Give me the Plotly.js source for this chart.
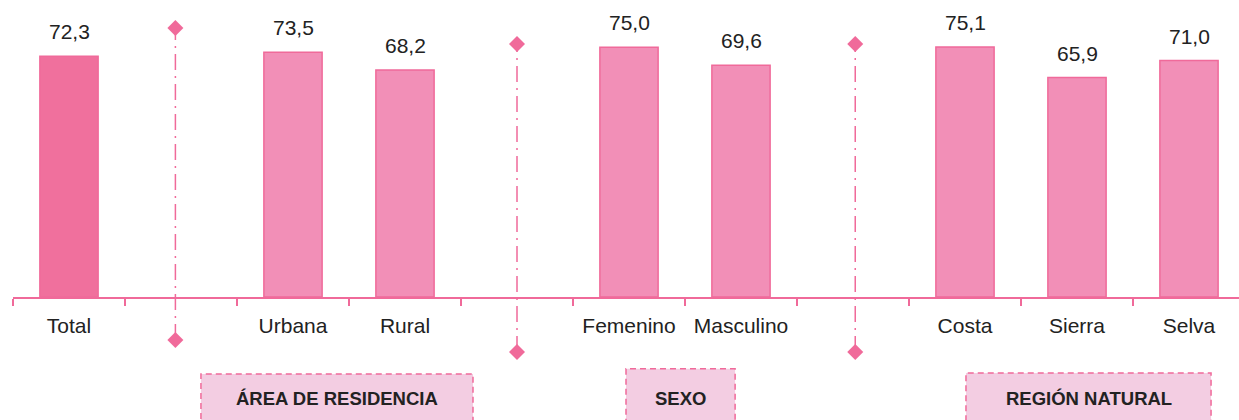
<!DOCTYPE html>
<html><head><meta charset="utf-8">
<script src="https://cdn.plot.ly/plotly-3.0.1.min.js"></script>
<style>html,body{margin:0;padding:0;background:#fff}#chart{width:1239px;height:420px}</style>
</head><body><div id="chart"></div>
<script>
// Data
const categories = ["Total", "", "Urbana", "Rural", "", "Femenino", "Masculino", "", "Costa", "Sierra", "Selva"];
const values =     [72.3,   null, 73.5,   68.2,   null, 75.0,      69.6,        null, 75.1,   65.9,     71.0];
const valueLabels = ["72,3", "", "73,5", "68,2", "", "75,0", "69,6", "", "75,1", "65,9", "71,0"];
const groupLabels = ["ÁREA DE RESIDENCIA", "SEXO", "REGIÓN NATURAL"];

const FONT = "'Liberation Sans', Arial, sans-serif";
const idx = categories.map((_, i) => i);
const barIdx = idx.filter(i => values[i] !== null);
const dividerIdx = idx.filter(i => values[i] === null);

const pinkLine = 'rgb(240,106,154)';
const barColors = barIdx.map(i => i === 0 ? 'rgb(240,112,157)' : 'rgb(242,143,183)');

const plotW = 1239 - 13, plotH = 297;
const slotPx = 112;
const xr = [-0.5, plotW / slotPx - 0.5];
const yr = [0, 89.2];
const px = d => (d - xr[0]) / (xr[1] - xr[0]);
const py = v => (v - yr[0]) / (yr[1] - yr[0]);

const traces = [{
  type: 'bar',
  x: barIdx,
  y: barIdx.map(i => values[i]),
  width: 0.52,
  marker: {color: barColors, line: {color: pinkLine, width: 1.5}},
  hoverinfo: 'skip',
  xaxis: 'x', yaxis: 'y'
}, {type: 'scatter', x: [0], y: [0], mode: 'markers', marker: {opacity: 0}, xaxis: 'x2', yaxis: 'y', hoverinfo: 'skip', showlegend: false}];

const shapes = [];
const annotations = barIdx.map(i => ({
  x: i, y: values[i], xref: 'x', yref: 'y',
  text: valueLabels[i], showarrow: false,
  xanchor: 'center', yanchor: 'bottom', yshift: 11,
  font: {family: FONT, size: 21, color: '#222'}
}));

// Divider decorations (top / bottom in data units)
const dividerEnds = [[80.8, -12.9], [76.0, -16.5], [76.0, -16.5]];
const dividerShift = [-0.05, 0, 0.02];
const hx = 8 / plotW, hy = 8 / plotH;
dividerIdx.forEach((d, k) => {
  const x = px(d + dividerShift[k]);
  const yt = py(dividerEnds[k][0]), yb = py(dividerEnds[k][1]);
  shapes.push({type: 'line', xref: 'paper', yref: 'paper', x0: x, x1: x, y0: yb, y1: yt,
    line: {color: pinkLine, width: 1.5, dash: '16px,6px,2px,6px'}});
  [yt, yb].forEach(y => {
    shapes.push({type: 'path', xref: 'paper', yref: 'paper',
      path: `M ${x - hx} ${y} L ${x} ${y + hy} L ${x + hx} ${y} L ${x} ${y - hy} Z`,
      fillcolor: pinkLine, line: {width: 0}});
  });
});

const boxes = [[0.1533, 0.3752], [0.5, 0.589], [0.7773, 0.9772]];
const boxY = [[-0.259, -0.45], [-0.242, -0.45], [-0.256, -0.45]];
boxes.forEach((b, k) => {
  shapes.push({type: 'rect', xref: 'paper', yref: 'paper', x0: b[0], x1: b[1], y0: boxY[k][1], y1: boxY[k][0],
    fillcolor: 'rgb(243,205,226)', line: {color: pinkLine, width: 1.5, dash: '6px,4px'}, layer: 'below'});
  annotations.push({xref: 'paper', yref: 'paper', x: (b[0] + b[1]) / 2, y: -0.342,
    xanchor: 'center', yanchor: 'middle',
    text: '<b>' + groupLabels[k] + '</b>', showarrow: false,
    font: {family: FONT, size: 18.5, color: '#222'}});
});

const layout = {
  width: 1239, height: 420,
  margin: {l: 13, r: 0, t: 0, b: 123},
  paper_bgcolor: '#fff', plot_bgcolor: '#fff',
  showlegend: false,
  xaxis: {
    range: xr, showgrid: false, zeroline: false,
    showline: true, linecolor: pinkLine, linewidth: 1.5,
    tickvals: idx.concat([idx.length]).map(i => i - 0.5),
    ticktext: idx.concat([idx.length]).map(() => ''),
    ticks: 'outside', ticklen: 7, tickcolor: pinkLine, tickwidth: 1.5,
    fixedrange: true
  },
  xaxis2: {
    overlaying: 'x', side: 'bottom', range: xr, showgrid: false, zeroline: false,
    showline: false, ticks: '',
    tickvals: barIdx, ticktext: barIdx.map(i => categories[i]),
    tickfont: {family: FONT, size: 21, color: '#222'},
    ticklabelstandoff: 14
  },
  yaxis: {range: yr, visible: false, fixedrange: true},
  shapes: shapes,
  annotations: annotations
};

Plotly.newPlot('chart', traces, layout, {staticPlot: true, displayModeBar: false});
</script></body></html>
